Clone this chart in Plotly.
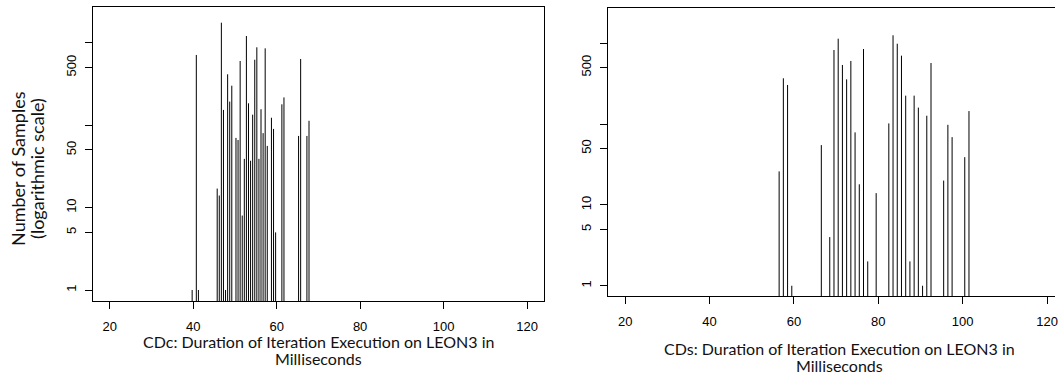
import plotly.graph_objects as go

# ---- data ----
cdc_x = [39.75, 40.75, 41.25, 45.75, 46.25, 46.75, 47.25, 47.75, 48.25, 48.75,
         49.25, 50.25, 50.75, 51.25, 51.75, 52.25, 52.75, 53.25, 53.75, 54.25,
         54.75, 55.25, 55.75, 56.25, 56.75, 57.25, 57.75, 58.75, 59.25, 59.75,
         61.25, 61.75, 65.25, 65.75, 67.25, 67.75]
cdc_n = [1, 710, 1, 17, 14, 1750, 153, 1, 414, 193,
         301, 70, 66, 600, 8, 39, 1206, 184, 37, 134,
         622, 880, 39, 156, 80, 855, 56, 123, 90, 5,
         179, 217, 74, 635, 74, 113]

cds_x = [56.5, 57.5, 58.5, 59.5, 66.5, 68.5, 69.5, 70.5, 71.5, 72.5,
         73.5, 74.5, 75.5, 76.5, 77.5, 79.5, 82.5, 83.5, 84.5, 85.5,
         86.5, 87.5, 88.5, 89.5, 90.5, 91.5, 92.5, 95.5, 96.5, 97.5,
         100.5, 101.5]
cds_n = [26, 369, 305, 1, 55, 4, 826, 1140, 539, 358,
         604, 79, 18, 850, 2, 14, 102, 1256, 988, 703,
         225, 2, 225, 160, 1, 127, 570, 20, 98, 69,
         39, 145]

x_ticks = [20, 40, 60, 80, 100, 120]
y_ticks = [1, 5, 10, 50, 100, 500, 1000]
y_ticktext = ["1", "5", "10", "50", "", "500", ""]

W, H = 1058, 375
TICKFONT = dict(family="Liberation Sans, Arial, sans-serif", size=13, color="black")
TITLEFONT = dict(family="Lato, sans-serif", size=16, color="#111")
YTITLEFONT = dict(family="Lato, sans-serif", size=18, color="#111")


def spikes(xs, ys, floor=0.5):
    """Vertical 'type=h' spikes from below the axis floor up to each count."""
    px, py = [], []
    for x, y in zip(xs, ys):
        px += [x, x, None]
        py += [floor, y, None]
    return px, py


fig = go.Figure()
sx, sy = spikes(cdc_x, cdc_n)
fig.add_trace(go.Scatter(x=sx, y=sy, mode="lines", line=dict(color="black", width=1),
                         xaxis="x", yaxis="y", showlegend=False, hoverinfo="skip"))
sx, sy = spikes(cds_x, cds_n)
fig.add_trace(go.Scatter(x=sx, y=sy, mode="lines", line=dict(color="black", width=1),
                         xaxis="x2", yaxis="y2", showlegend=False, hoverinfo="skip"))

axis_common = dict(showgrid=False, zeroline=False, showline=True, linecolor="black", linewidth=1,
                   ticks="outside", ticklen=7, tickcolor="black", tickwidth=1, tickfont=TICKFONT)

fig.update_layout(
    width=W, height=H,
    margin=dict(l=0, r=0, t=0, b=0),
    paper_bgcolor="white", plot_bgcolor="white",
    xaxis=dict(domain=[93.3 / W, 545.3 / W], range=[16, 124], tickvals=x_ticks,
               mirror=True, anchor="y", ticklabelstandoff=6, **axis_common),
    yaxis=dict(domain=[1 - 301 / H, 1 - 6.7 / H], type="log", range=[-0.1334, 3.437],
               tickvals=y_ticks, ticktext=y_ticktext, tickangle=-90, mirror=True,
               anchor="x", ticklabelstandoff=4, **axis_common),
    xaxis2=dict(domain=[610 / W, 1.0], range=[16, 121.89], tickvals=x_ticks,
                mirror=True, anchor="y2", ticklabelstandoff=6, ticklabeloverflow="allow",
                **axis_common),
    yaxis2=dict(domain=[1 - 296 / H, 1 - 8.3 / H], type="log", range=[-0.127, 3.433],
                tickvals=y_ticks, ticktext=y_ticktext, tickangle=-90, mirror=False,
                anchor="x2", ticklabelstandoff=4, **axis_common),
)


def ann(text, xpx, ypx, angle=0, font=TITLEFONT):
    fig.add_annotation(text=text, x=xpx / W, y=1 - ypx / H, xref="paper", yref="paper",
                       showarrow=False, xanchor="center", yanchor="middle",
                       textangle=angle, font=font)


ann("CDc: Duration of Iteration Execution on LEON3 in", 319, 341)
ann("Milliseconds", 319, 358)
ann("CDs: Duration of Iteration Execution on LEON3 in", 842, 348.5)
ann("Milliseconds", 842, 365.5)
ann("Number of Samples", 18, 168, -90, YTITLEFONT)
ann("(logarithmic scale)", 37, 168, -90, YTITLEFONT)

fig.write_html("out.html")
